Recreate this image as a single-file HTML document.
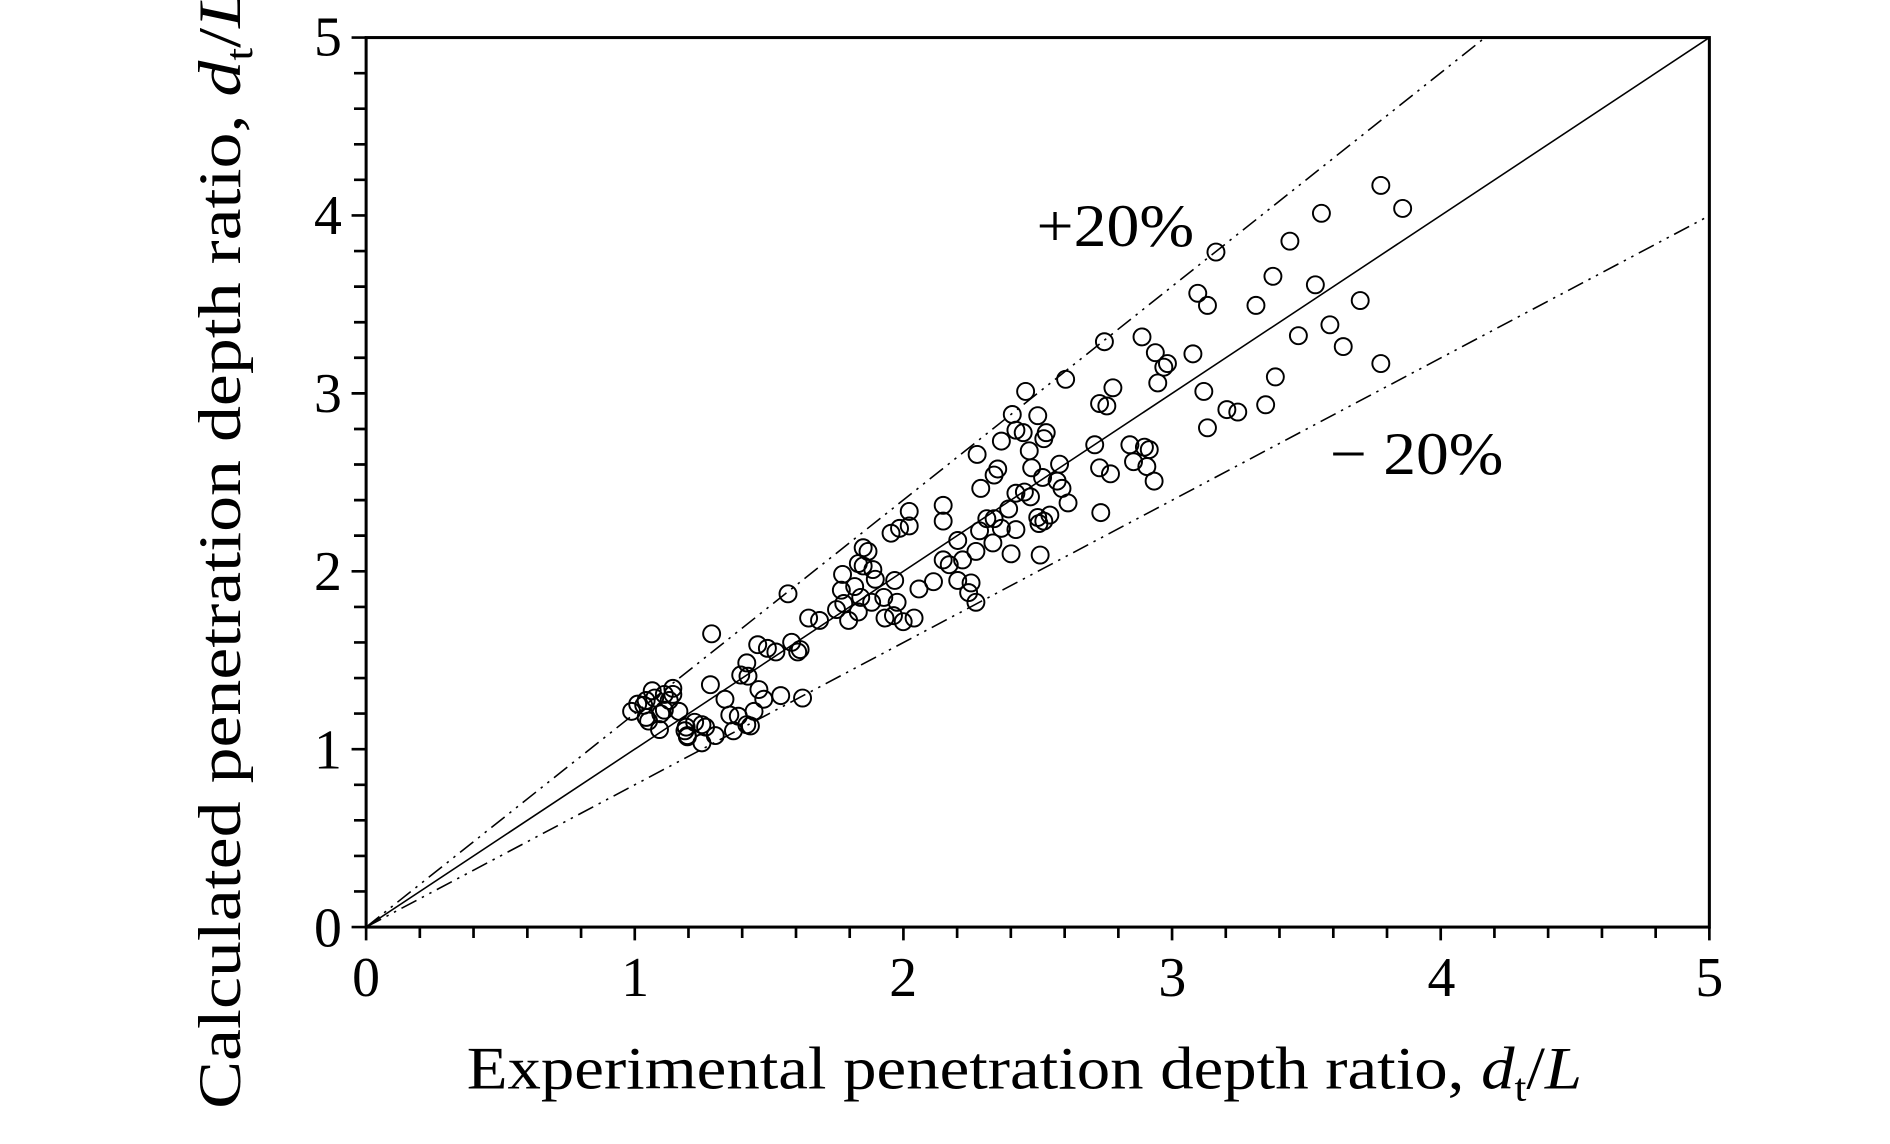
<!DOCTYPE html>
<html><head><meta charset="utf-8"><style>html,body{margin:0;padding:0;background:#fff}svg{display:block}</style></head>
<body>
<svg width="1890" height="1144" viewBox="0 0 1559 944" preserveAspectRatio="none" xmlns="http://www.w3.org/2000/svg" font-family="Liberation Serif, serif">
<rect width="1559" height="944" fill="#fff"/>
<g stroke="#000" stroke-width="1.3">
<line x1="302" y1="765" x2="1410" y2="31"/>
<line x1="302" y1="765" x2="1225" y2="31" stroke-dasharray="14,5,2,5,2,5"/>
<line x1="302" y1="765" x2="1410" y2="178" stroke-dasharray="14,5,2,5,2,5"/>
</g>
<rect x="302" y="31" width="1108" height="734" fill="none" stroke="#000" stroke-width="2.5"/>
<path stroke="#000" stroke-width="2.2" fill="none" d="M302,765V776M346.3,765V774M390.6,765V774M435,765V774M479.3,765V774M523.6,765V776M567.9,765V774M612.2,765V774M656.6,765V774M700.9,765V774M745.2,765V776M789.5,765V774M833.8,765V774M878.2,765V774M922.5,765V774M966.8,765V776M1011.1,765V774M1055.4,765V774M1099.8,765V774M1144.1,765V774M1188.4,765V776M1232.7,765V774M1277,765V774M1321.4,765V774M1365.7,765V774M1410,765V776
M302,765H290M302,735.6H292M302,706.3H292M302,676.9H292M302,647.6H292M302,618.2H290M302,588.8H292M302,559.5H292M302,530.1H292M302,500.8H292M302,471.4H290M302,442H292M302,412.7H292M302,383.3H292M302,354H292M302,324.6H290M302,295.2H292M302,265.9H292M302,236.5H292M302,207.2H292M302,177.8H290M302,148.4H292M302,119.1H292M302,89.7H292M302,60.4H292M302,31H290"/>
<g fill="none" stroke="#000" stroke-width="1.6">
<circle cx="1139" cy="153" r="7"/><circle cx="1157" cy="172" r="7"/><circle cx="1090" cy="176" r="7"/><circle cx="1064" cy="199" r="7"/><circle cx="1003" cy="208" r="7"/><circle cx="988" cy="242" r="7"/><circle cx="996" cy="252" r="7"/><circle cx="1050" cy="228" r="7"/><circle cx="1036" cy="252" r="7"/><circle cx="1085" cy="235" r="7"/><circle cx="1122" cy="248" r="7"/><circle cx="1097" cy="268" r="7"/><circle cx="1071" cy="277" r="7"/><circle cx="1108" cy="286" r="7"/><circle cx="1139" cy="300" r="7"/><circle cx="1052" cy="311" r="7"/><circle cx="1044" cy="334" r="7"/><circle cx="1021" cy="340" r="7"/><circle cx="1012" cy="338" r="7"/><circle cx="993" cy="323" r="7"/><circle cx="996" cy="353" r="7"/><circle cx="942" cy="278" r="7"/><circle cx="953" cy="291" r="7"/><circle cx="963" cy="300" r="7"/><circle cx="984" cy="292" r="7"/><circle cx="960" cy="303" r="7"/><circle cx="955" cy="316" r="7"/><circle cx="911" cy="282" r="7"/><circle cx="879" cy="313" r="7"/><circle cx="918" cy="320" r="7"/><circle cx="907" cy="333" r="7"/><circle cx="913" cy="335" r="7"/><circle cx="903" cy="367" r="7"/><circle cx="932" cy="367" r="7"/><circle cx="944" cy="369" r="7"/><circle cx="948" cy="371" r="7"/><circle cx="935" cy="381" r="7"/><circle cx="946" cy="385" r="7"/><circle cx="952" cy="397" r="7"/><circle cx="916" cy="391" r="7"/><circle cx="907" cy="386" r="7"/><circle cx="908" cy="423" r="7"/><circle cx="858" cy="458" r="7"/><circle cx="846" cy="323" r="7"/><circle cx="835" cy="342" r="7"/><circle cx="844" cy="357" r="7"/><circle cx="856" cy="343" r="7"/><circle cx="863" cy="357" r="7"/><circle cx="861" cy="362" r="7"/><circle cx="838" cy="355" r="7"/><circle cx="826" cy="364" r="7"/><circle cx="806" cy="375" r="7"/><circle cx="823" cy="387" r="7"/><circle cx="820" cy="392" r="7"/><circle cx="849" cy="372" r="7"/><circle cx="851" cy="386" r="7"/><circle cx="860" cy="394" r="7"/><circle cx="874" cy="383" r="7"/><circle cx="872" cy="397" r="7"/><circle cx="876" cy="403" r="7"/><circle cx="881" cy="415" r="7"/><circle cx="845" cy="406" r="7"/><circle cx="850" cy="410" r="7"/><circle cx="856" cy="427" r="7"/><circle cx="861" cy="430" r="7"/><circle cx="857" cy="432" r="7"/><circle cx="866" cy="425" r="7"/><circle cx="838" cy="407" r="7"/><circle cx="832" cy="420" r="7"/><circle cx="820" cy="428" r="7"/><circle cx="809" cy="403" r="7"/><circle cx="814" cy="428" r="7"/><circle cx="826" cy="436" r="7"/><circle cx="838" cy="437" r="7"/><circle cx="819" cy="448" r="7"/><circle cx="834" cy="457" r="7"/><circle cx="808" cy="438" r="7"/><circle cx="805" cy="455" r="7"/><circle cx="794" cy="462" r="7"/><circle cx="790" cy="479" r="7"/><circle cx="801" cy="481" r="7"/><circle cx="805" cy="497" r="7"/><circle cx="799" cy="489" r="7"/><circle cx="778" cy="417" r="7"/><circle cx="778" cy="430" r="7"/><circle cx="750" cy="422" r="7"/><circle cx="750" cy="434" r="7"/><circle cx="735" cy="440" r="7"/><circle cx="712" cy="452" r="7"/><circle cx="708" cy="465" r="7"/><circle cx="720" cy="470" r="7"/><circle cx="722" cy="478" r="7"/><circle cx="738" cy="479" r="7"/><circle cx="729" cy="493" r="7"/><circle cx="740" cy="497" r="7"/><circle cx="737" cy="508" r="7"/><circle cx="745" cy="513" r="7"/><circle cx="754" cy="510" r="7"/><circle cx="758" cy="486" r="7"/><circle cx="770" cy="480" r="7"/><circle cx="778" cy="462" r="7"/><circle cx="790" cy="446" r="7"/><circle cx="783" cy="466" r="7"/><circle cx="694" cy="487" r="7"/><circle cx="705" cy="484" r="7"/><circle cx="710" cy="493" r="7"/><circle cx="719" cy="497" r="7"/><circle cx="708" cy="505" r="7"/><circle cx="700" cy="512" r="7"/><circle cx="730" cy="510" r="7"/><circle cx="650" cy="490" r="7"/><circle cx="667" cy="510" r="7"/><circle cx="653" cy="530" r="7"/><circle cx="658" cy="538" r="7"/><circle cx="640" cy="538" r="7"/><circle cx="633" cy="535" r="7"/><circle cx="625" cy="532" r="7"/><circle cx="616" cy="547" r="7"/><circle cx="611" cy="557" r="7"/><circle cx="617" cy="558" r="7"/><circle cx="644" cy="574" r="7"/><circle cx="587" cy="523" r="7"/><circle cx="586" cy="565" r="7"/><circle cx="598" cy="577" r="7"/><circle cx="630" cy="577" r="7"/><circle cx="626" cy="569" r="7"/><circle cx="602" cy="590" r="7"/><circle cx="590" cy="607" r="7"/><circle cx="579" cy="613" r="7"/><circle cx="566" cy="600" r="7"/><circle cx="555" cy="573" r="7"/><circle cx="548" cy="586" r="7"/><circle cx="544" cy="602" r="7"/><circle cx="533" cy="592" r="7"/><circle cx="521" cy="587" r="7"/><circle cx="526" cy="581" r="7"/><circle cx="533" cy="578" r="7"/><circle cx="531" cy="582" r="7"/><circle cx="538" cy="570" r="7"/><circle cx="548" cy="573" r="7"/><circle cx="555" cy="568" r="7"/><circle cx="540" cy="576" r="7"/><circle cx="535" cy="595" r="7"/><circle cx="545" cy="589" r="7"/><circle cx="552" cy="578" r="7"/><circle cx="560" cy="587" r="7"/><circle cx="573" cy="596" r="7"/><circle cx="565" cy="603" r="7"/><circle cx="567" cy="607" r="7"/><circle cx="605" cy="603" r="7"/><circle cx="616" cy="598" r="7"/><circle cx="622" cy="587" r="7"/><circle cx="609" cy="591" r="7"/><circle cx="619" cy="599" r="7"/><circle cx="567" cy="608" r="7"/><circle cx="579" cy="598" r="7"/><circle cx="582" cy="600" r="7"/><circle cx="662" cy="576" r="7"/><circle cx="660" cy="536" r="7"/><circle cx="676" cy="512" r="7"/><circle cx="690" cy="503" r="7"/><circle cx="696" cy="498" r="7"/><circle cx="695" cy="474" r="7"/><circle cx="716" cy="455" r="7"/><circle cx="742" cy="436" r="7"/><circle cx="712" cy="467" r="7"/>
</g>
<g font-size="46" text-anchor="middle">
<text x="302" y="822">0</text><text x="524" y="822">1</text><text x="745" y="822">2</text><text x="967" y="822">3</text><text x="1189" y="822">4</text><text x="1410" y="822">5</text>
</g>
<g font-size="46" text-anchor="end">
<text x="282" y="781">0</text><text x="282" y="634">1</text><text x="282" y="487">2</text><text x="282" y="340">3</text><text x="282" y="193">4</text><text x="282" y="46">5</text>
</g>
<text x="385" y="898" font-size="50" textLength="920" lengthAdjust="spacingAndGlyphs">Experimental penetration depth ratio, <tspan font-style="italic">d</tspan><tspan font-size="32" dy="10">t</tspan><tspan dy="-10">/</tspan><tspan font-style="italic">L</tspan></text>
<text transform="translate(198,915) rotate(-90)" font-size="50" textLength="925" lengthAdjust="spacingAndGlyphs">Calculated penetration depth ratio, <tspan font-style="italic">d</tspan><tspan font-size="32" dy="10">t</tspan><tspan dy="-10">/</tspan><tspan font-style="italic">L</tspan></text>
<text x="855" y="203" font-size="50" textLength="130" lengthAdjust="spacingAndGlyphs">+20%</text>
<text x="1097" y="391" font-size="50" textLength="143" lengthAdjust="spacingAndGlyphs">− 20%</text>
</svg>
</body></html>
